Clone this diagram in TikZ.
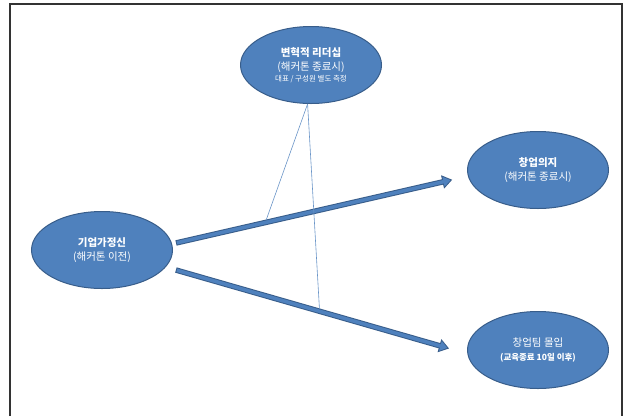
\documentclass[tikz,border=0pt]{standalone}
\usepackage{fontspec}
\setmainfont{Noto Sans CJK KR}
\usetikzlibrary{shapes.geometric,arrows.meta}
\definecolor{ofcblue}{RGB}{79,129,189}
\definecolor{ofcdark}{RGB}{56,93,138}
\tikzset{
  bub/.style={ellipse,fill=ofcblue,draw=ofcdark,line width=1pt,text=white,
    align=center,inner sep=0pt,minimum width=141pt,minimum height=77pt,
    font=\fontsize{10.5}{14}\selectfont},
  fat/.style={line width=5.5pt,draw=ofcdark,fill=ofcdark,
    -{Triangle[length=10pt,width=13pt]}},
  fatin/.style={line width=3.5pt,draw=ofcblue,fill=ofcblue,
    -{Triangle[length=7.2pt,width=9.6pt]}},
  tie/.style={draw=ofcblue!85,line width=0.6pt}
}
\begin{document}
\begin{tikzpicture}[x=1pt,y=-1pt]
\useasboundingbox (0,0) rectangle (624,416);
\draw[line width=1.2pt,black!80] (10,416) -- (10,4) -- (622,4) -- (622,416);
% ellipses
\node[bub] (lead) at (311,65) {\textbf{변혁적 리더십}\\(해커톤 종료시)\\[-3pt]
  {\fontsize{7.5}{9}\selectfont 대표 / 구성원 별도 측정}};
\node[bub] (entre) at (102,250) {\textbf{기업가정신}\\(해커톤 이전)};
\node[bub] (intent) at (538,170) {\textbf{창업의지}\\(해커톤 종료시)};
\node[bub] (immer) at (538,350) {창업팀 몰입\\
  {\fontsize{8.5}{10}\selectfont\textbf{(교육종료 10일 이후)}}};
% arrows
\path (entre.5) -- coordinate[pos=0.315] (m1) (intent.185);
\path (entre.-15) -- coordinate[pos=0.51] (m2) (immer.183);
\draw[fat,shorten <=4pt,shorten >=16pt] (entre.5) -- (intent.185);
\draw[fatin,shorten <=5pt,shorten >=17.8pt] (entre.5) -- (intent.185);
\draw[fat,shorten <=10.5pt,shorten >=19pt] (entre.-15) -- (immer.183);
\draw[fatin,shorten <=11.5pt,shorten >=20.8pt] (entre.-15) -- (immer.183);
\foreach \m in {m1,m2}
\draw[tie,shorten >=2.5pt] (lead.265) -- (\m);
\end{tikzpicture}
\end{document}
